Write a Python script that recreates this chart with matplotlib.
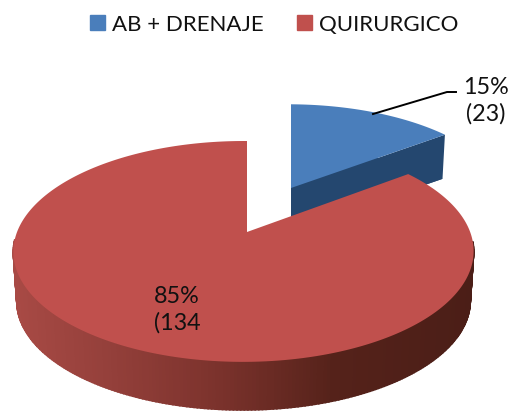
import numpy as np
from matplotlib import pyplot as plt
from matplotlib.patches import Patch
from matplotlib.colors import LinearSegmentedColormap

plt.rcParams['font.family'] = ['Lato', 'DejaVu Sans']

# datos
categorias = ['AB + DRENAJE', 'QUIRURGICO']
valores = [23, 134]
etiquetas = ['15%\n(23)', '85%\n(134']
colores = ['#4a7ebb', '#c0504d']

fracciones = np.array(valores) / sum(valores)


# circulo unidad -> pantalla con perspectiva
def proyectar(x, y, cx, cy, ex, ey):
    w = 1 + 0.176 * y + 0.015 * x
    return cx + ex * 226.5 * x / w, cy - ey * 107 * y / w


def borde(a0, a1):
    t = np.radians(np.linspace(a0, a1, 400))
    return np.cos(t), np.sin(t)


fig = plt.figure(figsize=(5.12, 4.14), dpi=100)
ax = fig.add_axes([0, 0, 1, 1])
ax.set_xlim(0, 512)
ax.set_ylim(414, 0)
ax.axis('off')

# sector azul (separado)
a0 = 90
a1 = 90 - 360 * fracciones[0]
x, y = borde(a0, a1)
cx, cy = 291, 189
px, py = proyectar(x, y, cx, cy, 0.955, 0.92)
qx, qy = proyectar(x, y, cx, cy + 43, 0.94, 0.90)
ax.fill(np.r_[cx, qx], np.r_[cy + 43, qy], color='#24476f', lw=0)
ax.fill([cx, px[-1], qx[-1], cx], [cy, py[-1], qy[-1], cy + 43], color='#24476f', lw=0)
ax.fill(np.r_[cx, px], np.r_[cy, py], color=colores[0], lw=0)

# sector rojo
x, y = borde(a1, a1 - 360 * fracciones[1])
cx, cy = 247, 233
px, py = proyectar(x, y, cx, cy, 1.0, 1.0)
qx, qy = proyectar(x, y, cx, cy + 50, 0.985, 0.985)
lado = LinearSegmentedColormap.from_list('lado', [(0, '#a84a45'), (0.2, '#95403b'), (0.45, '#7b322c'),
                                                  (0.7, '#55221a'), (1, '#4b1e17')])
for i in range(len(x) - 1):
    if y[i] < -0.08:
        c = lado((px[i] - 13) / 461)
        ax.fill([px[i], px[i + 1], qx[i + 1], qx[i]], [py[i], py[i + 1], qy[i + 1], qy[i]],
                color=c, lw=1.2)
ax.fill(np.r_[cx, px], np.r_[cy, py], color=colores[1], lw=0)

# etiquetas
ax.plot([373, 447, 456], [115, 93, 93], color='black', lw=1.4)
ax.text(486, 101, etiquetas[0], ha='center', va='center', fontsize=16.8, color='#111111', linespacing=1.32)
ax.text(177, 310, etiquetas[1], ha='center', va='center', fontsize=16.8, color='#111111', linespacing=1.32)

# leyenda
fig.legend([Patch(color=colores[0]), Patch(color=colores[1])], categorias, loc='center', ncol=2,
           bbox_to_anchor=(274 / 512, 1 - 25 / 414), frameon=False, fontsize=16,
           handlelength=0.68, handleheight=0.68, handletextpad=0.32, columnspacing=1.5, labelcolor='#111111')

plt.savefig('out.png', dpi=100)
